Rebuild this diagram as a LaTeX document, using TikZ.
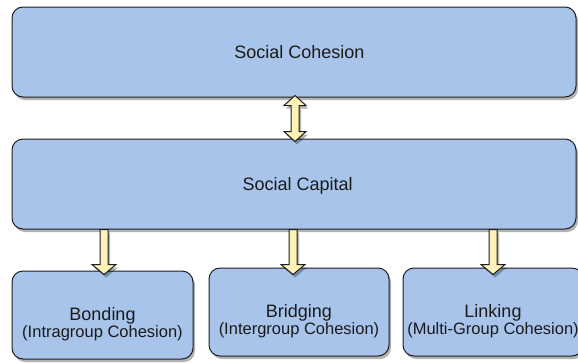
\documentclass[tikz,border=0pt]{standalone}
\usepackage{fontspec}
\setmainfont{Liberation Sans}
\usetikzlibrary{calc,shadows}

\definecolor{boxfill}{HTML}{A9C4EB}
\definecolor{boxline}{HTML}{1E1E1E}
\definecolor{arrowfill}{HTML}{FFF2B8}
\definecolor{inktext}{HTML}{1A1A1A}

\tikzset{
  softshadow/.style={drop shadow={shadow xshift=2pt, shadow yshift=-3pt, opacity=0.3, fill=black}},
  panel/.style={draw=boxline, line width=1pt, fill=boxfill, rounded corners=11pt,
    softshadow, text=inktext, align=center, inner sep=0pt},
  toppanel/.style={panel, font=\fontsize{18}{15.3}\selectfont,
    text height=13pt, text depth=0pt, minimum width=564pt, minimum height=90pt},
  leafpanel/.style={panel, font=\fontsize{18}{15.3}\selectfont,
    minimum width=180pt, minimum height=88pt},
  blockarrow/.style={draw=boxline, line width=1pt, fill=arrowfill, line join=miter, softshadow},
}

% smaller second line inside the lower panels
\newcommand\subline{\fontsize{16.5}{15.3}\selectfont}

% hollow block arrow pointing down: #1 source anchor, #2 target anchor,
% #3 coordinate giving the x position, #4 how far the tip runs into the target
\newcommand\flowdown[4]{%
  \draw[blockarrow] let \p3=(#3), \p1=(#1), \p2=(#2) in
    (\x3-4pt,\y1) -- (\x3+4pt,\y1) -- (\x3+4pt,\y2-#4+10pt) -- (\x3+12pt,\y2-#4+10pt)
    -- (\x3,\y2-#4) -- (\x3-12pt,\y2-#4+10pt) -- (\x3-4pt,\y2-#4+10pt) -- cycle;}

% hollow double-headed block arrow between an upper and a lower anchor
\newcommand\flowboth[3]{%
  \draw[blockarrow] let \p3=(#3), \p1=(#1), \p2=(#2) in
    (\x3,\y1+2pt) -- (\x3+11pt,\y1-8pt) -- (\x3+4pt,\y1-8pt) -- (\x3+4pt,\y2+7pt)
    -- (\x3+11pt,\y2+7pt) -- (\x3,\y2-3pt) -- (\x3-11pt,\y2+7pt) -- (\x3-4pt,\y2+7pt)
    -- (\x3-4pt,\y1-8pt) -- (\x3-11pt,\y1-8pt) -- cycle;}

\begin{document}
\begin{tikzpicture}[x=1pt,y=-1pt]
  \useasboundingbox (0,0) rectangle (578,362);

  % panels
  \node[toppanel] (coh) at (294,52) {\hspace*{11pt}Social Cohesion};
  \node[toppanel] (cap) at (294,184) {\hspace*{7.5pt}Social Capital};
  \node[leafpanel, minimum width=181pt] (bond) at (102.5,315)
    {\rule{0pt}{31pt}Bonding\\\subline(Intragroup Cohesion)};
  \node[leafpanel] (brid) at (299,312)
    {\rule{0pt}{31pt}Bridging\\\subline(Intergroup Cohesion)};
  \node[leafpanel] (link) at (493,312)
    {\rule{0pt}{31pt}Linking\\\subline(Multi-Group Cohesion)};

  % x positions of the arrows
  \coordinate (ax0) at (295,0);
  \coordinate (ax1) at (104,0);
  \coordinate (ax2) at (293,0);
  \coordinate (ax3) at (493,0);

  % connectors
  \flowboth{coh.south}{cap.north}{ax0}
  \flowdown{cap.south}{bond.north}{ax1}{4pt}
  \flowdown{cap.south}{brid.north}{ax2}{7pt}
  \flowdown{cap.south}{link.north}{ax3}{7pt}
\end{tikzpicture}
\end{document}
